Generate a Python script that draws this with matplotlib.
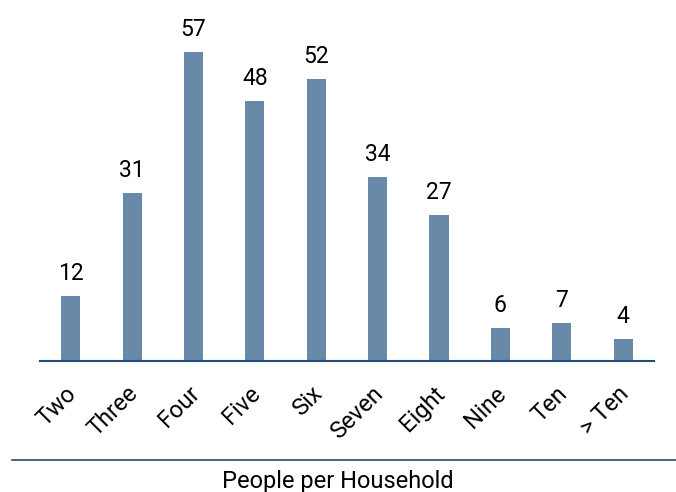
import matplotlib.pyplot as plt
from matplotlib.lines import Line2D
from matplotlib.transforms import ScaledTranslation

categories = ['Two', 'Three', 'Four', 'Five', 'Six', 'Seven', 'Eight', 'Nine', 'Ten', '> Ten']
counts = [12, 31, 57, 48, 52, 34, 27, 6, 7, 4]

bar_color = '#6889a8'
line_color = '#1f4e79'

plt.rcParams['font.family'] = ['Roboto', 'DejaVu Sans']

fig = plt.figure(figsize=(6.76, 4.92), dpi=100)
ax = fig.add_axes([0.0592, 0.2663, 0.908, 0.7337])

x = list(range(len(categories)))
bars = ax.bar(x, counts, width=0.31, color=bar_color, zorder=2)
for b, v in zip(bars, counts):
    ax.annotate(str(v), (b.get_x() + b.get_width() / 2, v), xytext=(0, 8),
                textcoords='offset points', ha='center', va='bottom', fontsize=16.5)

ax.set_xlim(-0.5, len(categories) - 0.5)
ax.set_ylim(0, 66.6)
for s in ['top', 'right', 'left']:
    ax.spines[s].set_visible(False)
ax.spines['bottom'].set_color(line_color)
ax.spines['bottom'].set_linewidth(1.5)
ax.set_yticks([])
ax.set_xticks(x)
ax.set_xticklabels(categories, rotation=45, ha='right', va='top',
                   rotation_mode='anchor', fontsize=17)
ax.tick_params(axis='x', length=0, pad=15)
# nudge labels left a bit
shift = ScaledTranslation(-6 / 100, 0, fig.dpi_scale_trans)
for lbl in ax.get_xticklabels():
    lbl.set_transform(lbl.get_transform() + shift)

fig.add_artist(Line2D([12 / 676, 1.0], [0.065, 0.065], color=line_color, linewidth=1.2))
fig.text(0.5, 0.022, 'People per Household', ha='center', va='center', fontsize=17)

fig.savefig('out.png', dpi=100)
